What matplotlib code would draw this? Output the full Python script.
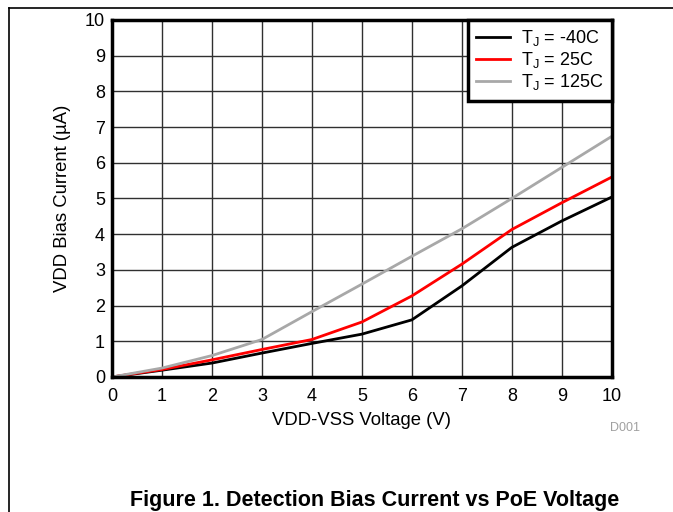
import matplotlib
matplotlib.use('Agg')
import matplotlib.pyplot as plt
from matplotlib.lines import Line2D

plt.rcParams['font.family'] = ['Liberation Sans', 'DejaVu Sans']
plt.rcParams['mathtext.fontset'] = 'custom'
plt.rcParams['mathtext.rm'] = 'Liberation Sans'
plt.rcParams['mathtext.it'] = 'Liberation Sans:italic'

voltage = [0, 1, 2, 3, 4, 5, 6, 7, 8, 9, 10]
i_m40 = [0, 0.19, 0.39, 0.67, 0.94, 1.2, 1.6, 2.55, 3.63, 4.37, 5.04]
i_25 = [0, 0.21, 0.48, 0.77, 1.05, 1.54, 2.27, 3.16, 4.13, 4.88, 5.6]
i_125 = [0, 0.25, 0.6, 1.05, 1.83, 2.6, 3.38, 4.15, 5.0, 5.87, 6.74]
labels = [r'T$_\mathrm{J}$ = -40C', r'T$_\mathrm{J}$ = 25C', r'T$_\mathrm{J}$ = 125C']
ticks = list(range(0, 11))

fig = plt.figure(figsize=(6.73, 5.12), dpi=100)
ax = fig.add_axes([0.1664, 0.2637, 0.7426, 0.6973])

ax.plot(voltage, i_m40, color='black', lw=2, label=labels[0])
ax.plot(voltage, i_25, color='#ff0000', lw=2, label=labels[1])
ax.plot(voltage, i_125, color='#a8a8a8', lw=2, label=labels[2])

ax.set_xlim(0, 10)
ax.set_ylim(0, 10)
ax.set_xticks(ticks)
ax.set_yticks(ticks)
ax.tick_params(length=0, labelsize=13)
ax.tick_params(axis='x', pad=8)
ax.tick_params(axis='y', pad=5)
ax.grid(True, color='#303030', lw=1)
ax.set_axisbelow(True)
for s in ax.spines.values():
    s.set_linewidth(2.5)

ax.set_xlabel('VDD-VSS Voltage (V)', fontsize=13.3, labelpad=5)
ax.set_ylabel('VDD Bias Current (\u00b5A)', fontsize=13.3, labelpad=10)

leg = ax.legend(loc='upper right', fontsize=13, fancybox=False, framealpha=1,
                edgecolor='black', borderaxespad=0, handlelength=1.9,
                handletextpad=0.6, labelspacing=0.12, borderpad=0.45)
leg.get_frame().set_linewidth(2.5)

fig.text(0.929, 0.164, 'D001', color='#a0a0a0', fontsize=9, ha='center', va='center')
fig.text(0.557, 0.022, 'Figure 1. Detection Bias Current vs PoE Voltage',
         fontsize=15.5, fontweight='bold', ha='center', va='center')

# page frame (left and top edges)
fig.add_artist(Line2D([0.013, 0.013], [0, 0.985], color='black', lw=1.2, transform=fig.transFigure))
fig.add_artist(Line2D([0.013, 1], [0.985, 0.985], color='black', lw=1.2, transform=fig.transFigure))

fig.savefig('out.png', dpi=100)
